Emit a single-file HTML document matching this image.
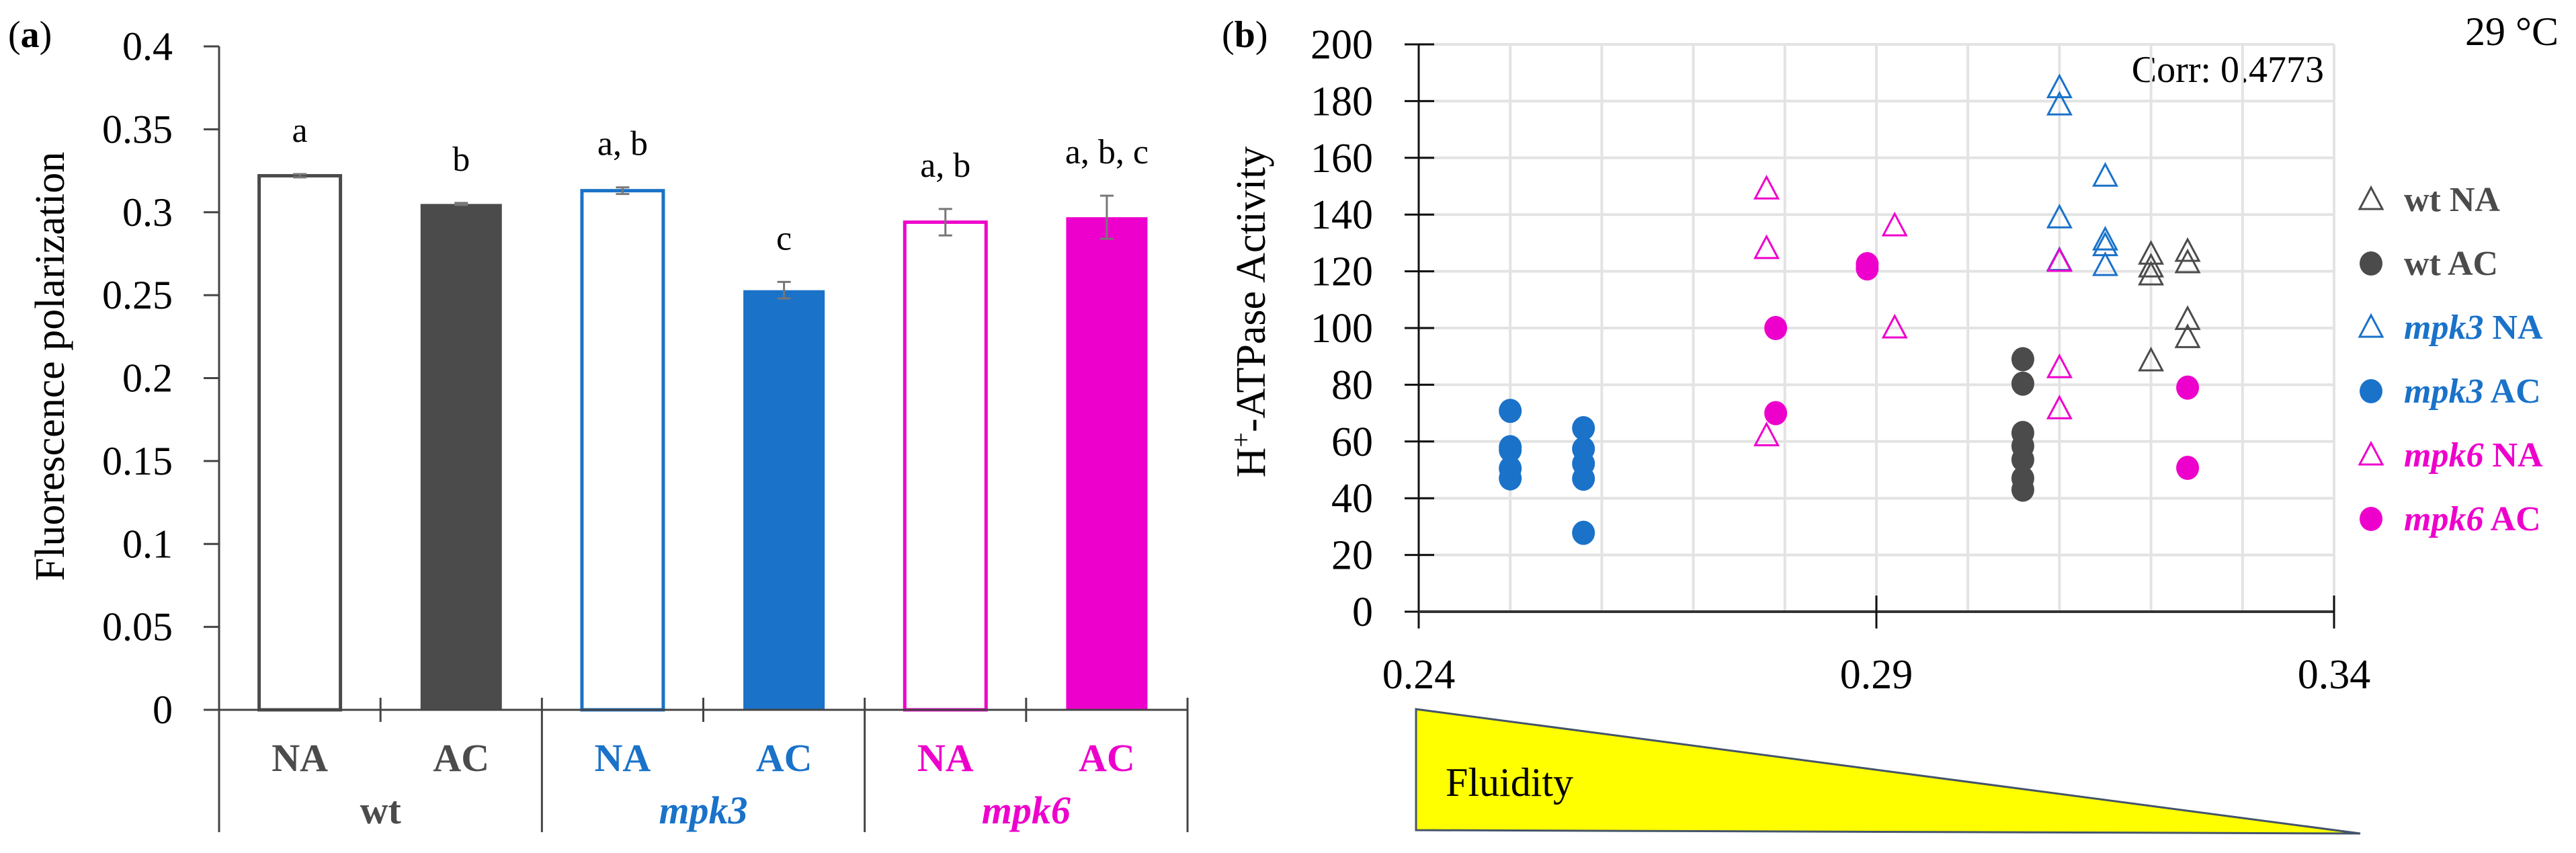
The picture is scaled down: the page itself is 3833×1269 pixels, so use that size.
<!DOCTYPE html>
<html><head><meta charset="utf-8"><style>
html,body{margin:0;padding:0;background:#fff;}
svg{display:block;font-family:"Liberation Serif",serif;}
</style></head><body>
<svg id="fig" width="3833" height="1269" viewBox="0 0 3833 1269" font-family="Liberation Serif, serif" xmlns="http://www.w3.org/2000/svg">
<rect width="3833" height="1269" fill="#fff"/>
<text x="12" y="70" font-size="56">(<tspan font-weight="bold">a</tspan>)</text>
<text x="1818" y="70" font-size="56">(<tspan font-weight="bold">b</tspan>)</text>
<text transform="translate(95,545) rotate(-90)" text-anchor="middle" font-size="62">Fluorescence polarization</text>
<text transform="translate(1882,464) rotate(-90)" text-anchor="middle" font-size="62">H<tspan baseline-shift="super" font-size="40">+</tspan>-ATPase Activity</text>
<text x="3807" y="67" text-anchor="end" font-size="60">29 °C</text>
<text x="3458" y="122" text-anchor="end" font-size="56">Corr: 0.4773</text>
<g id="ga"></g><g id="gb"></g>
<polygon points="2107,1055 3512,1240 2107,1235" fill="#ffff00" stroke="#44546a" stroke-width="3"/>
<text x="2151" y="1184" font-size="60">Fluidity</text>
</svg>
<script>
const NS="http://www.w3.org/2000/svg";
// ---- Panel A data ----
const barCats=["NA","AC","NA","AC","NA","AC"];
const barVals=[0.322,0.305,0.313,0.253,0.294,0.297];
const barErr=[0.001,0.0006,0.002,0.005,0.008,0.013];
const barLetters=["a","b","a, b","c","a, b","a, b, c"];
const groupNames=["wt","mpk3","mpk6"];
const aTicks=["0","0.05","0.1","0.15","0.2","0.25","0.3","0.35","0.4"];
// ---- Panel B data ----
const wtNA_x=[0.320,0.320,0.320,0.320,0.324,0.324,0.324,0.324];
const wtNA_y=[126,121.5,118.7,88.4,127,123,103,96.6];
const wtAC_x=[0.306,0.306,0.306,0.306,0.306,0.306,0.306];
const wtAC_y=[89,80.4,63,58.4,53.6,47,43];
const m3NA_x=[0.310,0.310,0.310,0.310,0.315,0.315,0.315,0.315];
const m3NA_y=[184.7,178.6,138.8,123.8,153.5,131,129,122];
const m3AC_x=[0.250,0.250,0.250,0.250,0.250,0.258,0.258,0.258,0.258,0.258];
const m3AC_y=[70.8,58,57,50.5,47,64.7,57.4,52.2,46.9,27.8];
const m6NA_x=[0.278,0.278,0.278,0.292,0.292,0.310,0.310,0.310];
const m6NA_y=[149,128,62,136,100,123.5,86,71.5];
const m6AC_x=[0.279,0.279,0.289,0.289,0.324,0.324];
const m6AC_y=[100,70,121,122.5,79,50.7];
const bYTicks=[0,20,40,60,80,100,120,140,160,180,200];
const bXTicks=["0.24","0.29","0.34"];

const GRAY="#4b4b4b",BLUE="#1a72c9",MAG="#ee00cc";
const colors=[GRAY,GRAY,BLUE,BLUE,MAG,MAG];
function el(tag,attrs,parent,text){const e=document.createElementNS(NS,tag);for(const k in attrs)e.setAttribute(k,attrs[k]);if(text!==undefined)e.textContent=text;parent.appendChild(e);return e;}

// Panel A axes
const ga=document.getElementById('ga');
const aX0=326,aX1=1767,aY0=1056,aYtop=69;
const ay=v=>aY0-(v/0.4)*(aY0-aYtop);
const slot=(aX1-aX0)/6;
const acx=i=>aX0+slot*(i+0.5);
aTicks.forEach(t=>{const v=parseFloat(t);const y=ay(v);
 const tk=el('line',{x1:303,x2:aX0,y1:y,y2:y,stroke:'#444','stroke-width':3},ga);
 
 
 const tl=el('text',{x:257,y:y+20,'text-anchor':'end','font-size':60},ga,t);
 
 
});
const yaxA=el('line',{x1:aX0,x2:aX0,y1:aYtop,y2:1238,stroke:'#444','stroke-width':3},ga);


barVals.forEach((v,i)=>{
 const w=121,x=acx(i)-w/2,y=ay(v);const filled=i%2===1;
 const r=el('rect',{x:x,y:y,width:w,height:aY0-y,fill:filled?colors[i]:'#fff',stroke:colors[i],'stroke-width':filled?0:5},ga);
 
 
 const e=barErr[i];const cx=acx(i);
 const eb=el('path',{d:`M${cx},${ay(v+e)}V${ay(v-e)}M${cx-10},${ay(v+e)}H${cx+10}M${cx-10},${ay(v-e)}H${cx+10}`,stroke:'#777','stroke-width':3,fill:'none'},ga);
 
 
 const lt=el('text',{x:cx,y:ay(v+e)-48,'text-anchor':'middle','font-size':52},ga,barLetters[i]);
 
 
 const cl=el('text',{x:cx,y:1147,'text-anchor':'middle','font-size':58,'font-weight':'bold',fill:colors[i]},ga,barCats[i]);
 
 
});
const xaxA=el('line',{x1:303,x2:aX1,y1:aY0,y2:aY0,stroke:'#444','stroke-width':3},ga);


for(let k=1;k<=6;k++){const x=aX0+slot*k;const long=k%2===0;
 const d=el('line',{x1:x,x2:x,y1:aY0-18,y2:long?1238:1074,stroke:'#444','stroke-width':3},ga);
 
 
}
groupNames.forEach((g,j)=>{const cx=aX0+slot*(2*j+1);
 const t=el('text',{x:cx,y:1225,'text-anchor':'middle','font-size':58,'font-weight':'bold','font-style':j?'italic':'normal',fill:colors[2*j]},ga,g);
 
 
});

// Panel B
const gb=document.getElementById('gb');
const bX0=2111,bX1=3473,bY0=910,bYtop=66;
const bx=v=>bX0+(v-0.24)/0.1*(bX1-bX0);
const by=v=>bY0-v/200*(bY0-bYtop);
for(let k=1;k<=10;k++){const x=bx(0.24+k*0.01);
 const g=el('line',{x1:x,x2:x,y1:bYtop,y2:bY0,stroke:'#e3e3e3','stroke-width':4},gb);
 
 
}
bYTicks.forEach(t=>{const y=by(t);
 if(t>0){const g=el('line',{x1:bX0,x2:bX1,y1:y,y2:y,stroke:'#e3e3e3','stroke-width':4},gb);
 
 }
 const tk=el('line',{x1:2090,x2:2134,y1:y,y2:y,stroke:'#111','stroke-width':3},gb);
 
 
 const tl=el('text',{x:2043,y:y+21,'text-anchor':'end','font-size':62},gb,String(t));
 
 
});
const yaxB=el('line',{x1:bX0,x2:bX0,y1:bYtop,y2:935,stroke:'#111','stroke-width':3},gb);


const xaxB=el('line',{x1:bX0,x2:bX1,y1:bY0,y2:bY0,stroke:'#333','stroke-width':4},gb);


bXTicks.forEach((t,i)=>{const x=bx(parseFloat(t));
 if(i>0){const tk=el('line',{x1:x,x2:x,y1:886,y2:935,stroke:'#111','stroke-width':3},gb);
 
 }
 const tl=el('text',{x:x,y:1024,'text-anchor':'middle','font-size':62},gb,t);
 
 
});
function tri(cx,cy,c,parent){return el('path',{d:`M${cx},${cy-18}L${cx+17},${cy+14}L${cx-17},${cy+14}Z`,fill:'none',stroke:c,'stroke-width':3},parent);}
function dot(cx,cy,c,parent){return el('ellipse',{cx:cx,cy:cy,rx:17,ry:18,fill:c},parent);}
const series=[
 {n:'wt-na',xs:wtNA_x,ys:wtNA_y,c:GRAY,t:1},
 {n:'wt-ac',xs:wtAC_x,ys:wtAC_y,c:GRAY,t:0},
 {n:'mpk3-na',xs:m3NA_x,ys:m3NA_y,c:BLUE,t:1},
 {n:'mpk3-ac',xs:m3AC_x,ys:m3AC_y,c:BLUE,t:0},
 {n:'mpk6-na',xs:m6NA_x,ys:m6NA_y,c:MAG,t:1},
 {n:'mpk6-ac',xs:m6AC_x,ys:m6AC_y,c:MAG,t:0}];
series.forEach(s=>{s.xs.forEach((xv,i)=>{const cx=bx(xv),cy=by(s.ys[i]);
 const m=s.t?tri(cx,cy,s.c,gb):dot(cx,cy,s.c,gb);
 
 
});});
// Legend
const legLabels=[["wt","NA"],["wt","AC"],["mpk3","NA"],["mpk3","AC"],["mpk6","NA"],["mpk6","AC"]];
series.forEach((s,i)=>{const y=297+i*95;
 const m=s.t?tri(3528,y,s.c,gb):dot(3528,y,s.c,gb);
 
 
 const t=el('text',{x:3577,y:y+17,'font-size':52,'font-weight':'bold',fill:s.c},gb);
 
 
 el('tspan',{'font-style':i>1?'italic':'normal'},t,legLabels[i][0]);
 el('tspan',{},t,' '+legLabels[i][1]);
});
</script>
</body></html>
